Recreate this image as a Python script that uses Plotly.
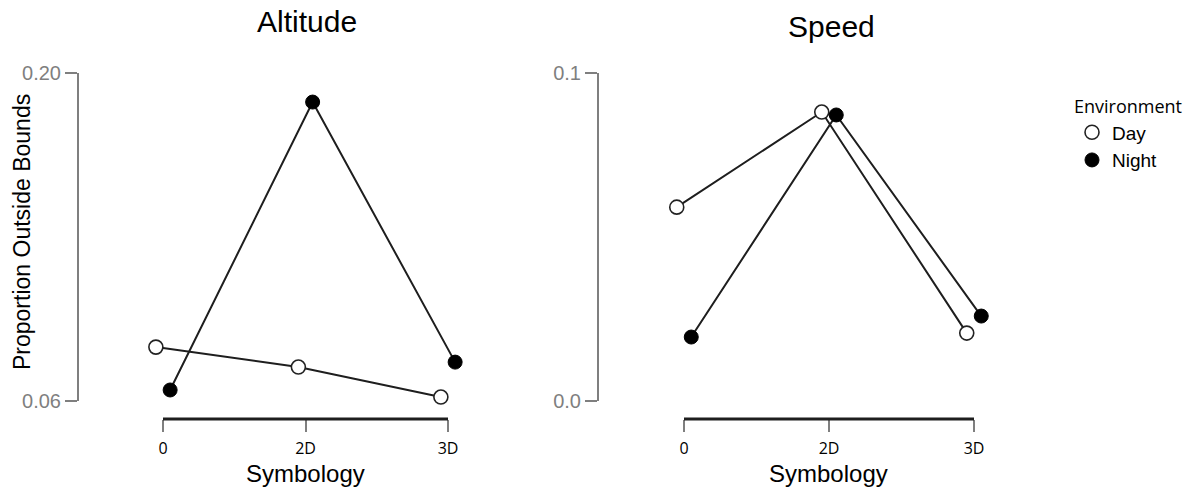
import plotly.graph_objects as go

W, H = 1194, 493

# ---- data ----
categories = ["0", "2D", "3D"]
altitude_day = [0.0830, 0.0745, 0.0617]
altitude_night = [0.0647, 0.1876, 0.0766]
speed_day = [0.0591, 0.0881, 0.0207]
speed_night = [0.0195, 0.0872, 0.0259]
altitude_ticks = [0.06, 0.20]
altitude_ticktext = ["0.06", "0.20"]
speed_ticks = [0.0, 0.1]
speed_ticktext = ["0.0", "0.1"]

DODGE = 0.05
xi = list(range(len(categories)))
x_day = [i - DODGE for i in xi]
x_night = [i + DODGE for i in xi]

ARIAL = "Arial, Liberation Sans, sans-serif"
CAL = "Open Sans, Noto Sans, sans-serif"
GRAY = "#7f7f7f"
LINE = "#1e1e1e"


def px(x):
    return x / W


def py(y):
    return 1 - y / H


fig = go.Figure()

day_marker = dict(symbol="circle", size=14, color="white", line=dict(color="#222", width=1.6))
night_marker = dict(symbol="circle", size=14, color="black", line=dict(color="black", width=1))

panels = [
    ("x", "y", altitude_day, altitude_night),
    ("x2", "y2", speed_day, speed_night),
]
for xa, ya, dvals, nvals in panels:
    fig.add_trace(go.Scatter(
        x=x_day, y=dvals, xaxis=xa, yaxis=ya, mode="lines+markers", name="Day",
        line=dict(color=LINE, width=2), marker=day_marker, cliponaxis=False,
        legendgroup="Day", showlegend=False))
    fig.add_trace(go.Scatter(
        x=x_night, y=nvals, xaxis=xa, yaxis=ya, mode="lines+markers", name="Night",
        line=dict(color=LINE, width=2), marker=night_marker, cliponaxis=False,
        legendgroup="Night", showlegend=False))

# legend entries (markers only, as in the reference legend)
fig.add_trace(go.Scatter(x=[None], y=[None], xaxis="x2", yaxis="y2", mode="markers",
                         name="Day", marker=day_marker, legendgroup="Day", showlegend=True))
fig.add_trace(go.Scatter(x=[None], y=[None], xaxis="x2", yaxis="y2", mode="markers",
                         name="Night", marker=night_marker, legendgroup="Night", showlegend=True))

y_dom = [py(401), py(73)]
x_pos = py(419)

lx0, lx1 = 163, 448
lppu = (lx1 - lx0) / 2
rx0, rx1 = 684, 974
rppu = (rx1 - rx0) / 2
pad = 0.25

common_x = dict(
    range=[-pad, 2 + pad], anchor="free", position=x_pos, showline=False,
    showgrid=False, zeroline=False, ticks="outside", ticklen=12, tickwidth=2,
    tickcolor=GRAY, tickvals=xi, ticktext=categories, ticklabelstandoff=3,
    tickfont=dict(family=CAL, size=16, color="black"),
)
common_y = dict(
    anchor="free", showline=True, linecolor=GRAY, linewidth=2, showgrid=False,
    zeroline=False, ticks="outside", ticklen=12, tickwidth=2, tickcolor=GRAY,
    tickfont=dict(family=ARIAL, size=20, color=GRAY),
)

fig.update_layout(
    width=W, height=H,
    margin=dict(l=0, r=0, t=0, b=0, autoexpand=False),
    plot_bgcolor="white", paper_bgcolor="white",
    xaxis=dict(domain=[px(lx0 - pad * lppu), px(lx1 + pad * lppu)], **common_x),
    xaxis2=dict(domain=[px(rx0 - pad * rppu), px(rx1 + pad * rppu)], **common_x),
    yaxis=dict(domain=y_dom, range=[altitude_ticks[0], altitude_ticks[1]], position=px(78),
               tickvals=altitude_ticks, ticktext=altitude_ticktext, **common_y),
    yaxis2=dict(domain=y_dom, range=[speed_ticks[0], speed_ticks[1]], position=px(598),
                tickvals=speed_ticks, ticktext=speed_ticktext, **common_y),
    legend=dict(
        x=px(1072), y=py(90), xanchor="left", yanchor="top",
        title=dict(text="Environment", font=dict(family=CAL, size=18, color="black")),
        font=dict(family=ARIAL, size=19, color="black"),
        bgcolor="rgba(0,0,0,0)", tracegroupgap=0, itemwidth=30,
    ),
    showlegend=True,
)

for xr in ["x", "x2"]:
    fig.add_shape(type="line", xref=xr, yref="paper", x0=0, x1=2, y0=x_pos, y1=x_pos,
                  line=dict(color=LINE, width=3), layer="above")

fig.add_annotation(text="Altitude", x=px(307), y=py(22), xref="paper", yref="paper",
                   showarrow=False, font=dict(family=ARIAL, size=30, color="black"),
                   xanchor="center", yanchor="middle")
fig.add_annotation(text="Speed", x=px(831), y=py(26), xref="paper", yref="paper",
                   showarrow=False, font=dict(family=ARIAL, size=30, color="black"),
                   xanchor="center", yanchor="middle")
for cx in [305, 828]:
    fig.add_annotation(text="Symbology", x=px(cx), y=py(473), xref="paper", yref="paper",
                       showarrow=False, font=dict(family=ARIAL, size=24, color="black"),
                       xanchor="center", yanchor="middle", borderpad=0)
fig.add_annotation(text="Proportion Outside Bounds", x=px(22), y=py(232), xref="paper",
                   yref="paper", showarrow=False, textangle=-90,
                   font=dict(family=ARIAL, size=23, color="black"),
                   xanchor="center", yanchor="middle")

fig.write_html("out.html")
